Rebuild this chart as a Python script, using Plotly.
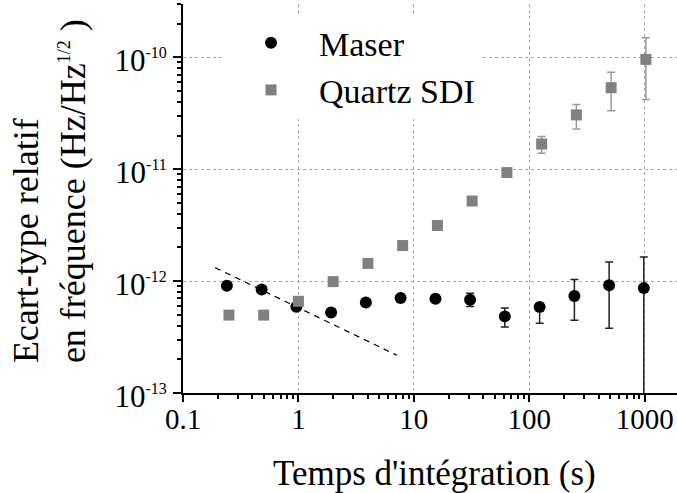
import plotly.graph_objects as go

# Data
maser_x = [0.24, 0.48, 0.96, 1.92, 3.84, 7.68, 15.4, 30.7, 61.4, 123, 246, 492, 983]
maser_y = [9.1e-13, 8.4e-13, 5.9e-13, 5.25e-13, 6.45e-13, 7.05e-13, 6.95e-13,
           6.8e-13, 4.84e-13, 5.86e-13, 7.35e-13, 9.2e-13, 8.66e-13]
maser_hi = [9.1e-13, 8.4e-13, 5.9e-13, 5.25e-13, 6.45e-13, 7.05e-13, 7.3e-13,
            7.8e-13, 5.74e-13, 6.15e-13, 1.035e-12, 1.48e-12, 1.64e-12]
maser_lo = [9.1e-13, 8.4e-13, 5.9e-13, 5.25e-13, 6.45e-13, 7.05e-13, 6.6e-13,
            5.94e-13, 3.88e-13, 4.21e-13, 4.46e-13, 3.8e-13, 1e-14]

quartz_x = [0.25, 0.5, 1, 2, 4, 8, 16, 32, 64, 128, 256, 512, 1024]
quartz_y = [4.97e-13, 4.97e-13, 6.6e-13, 9.9e-13, 1.44e-12, 2.08e-12, 3.14e-12,
            5.2e-12, 9.34e-12, 1.68e-11, 3.06e-11, 5.36e-11, 9.6e-11]
quartz_hi = [4.97e-13, 4.97e-13, 6.6e-13, 9.9e-13, 1.44e-12, 2.08e-12, 3.14e-12,
             5.2e-12, 9.9e-12, 1.96e-11, 3.8e-11, 7.35e-11, 1.5e-10]
quartz_lo = [4.97e-13, 4.97e-13, 6.6e-13, 9.9e-13, 1.44e-12, 2.08e-12, 3.14e-12,
             5.2e-12, 8.8e-12, 1.39e-11, 2.29e-11, 3.34e-11, 4.2e-11]

slope_x = [0.19, 7.1]
slope_y = [1.32e-12, 2.18e-13]

x_tickvals = [0.1, 1, 10, 100, 1000]
x_ticktext = ["0.1", "1", "10", "100", "1000"]
y_tickvals = [1e-13, 1e-12, 1e-11, 1e-10]
y_exps = ["-13", "-12", "-11", "-10"]

FONT = "Liberation Serif"

fig = go.Figure()

fig.add_trace(go.Scatter(
    x=slope_x, y=slope_y, mode="lines", showlegend=False,
    line=dict(color="black", width=1.2, dash="6px,5px"),
))

fig.add_trace(go.Scatter(
    x=maser_x, y=maser_y, mode="markers", name="Maser",
    marker=dict(symbol="circle", size=12, color="black"),
    error_y=dict(type="data", symmetric=False,
                 array=[h - v for h, v in zip(maser_hi, maser_y)],
                 arrayminus=[v - l for v, l in zip(maser_y, maser_lo)],
                 color="#222222", thickness=1.5, width=4),
))

fig.add_trace(go.Scatter(
    x=quartz_x, y=quartz_y, mode="markers", name="Quartz SDI",
    marker=dict(symbol="square", size=11, color="#808080"),
    error_y=dict(type="data", symmetric=False,
                 array=[h - v for h, v in zip(quartz_hi, quartz_y)],
                 arrayminus=[v - l for v, l in zip(quartz_y, quartz_lo)],
                 color="#9a9a9a", thickness=1.5, width=4),
))

fig.update_xaxes(
    type="log", range=[-1, 3.28],
    tickvals=x_tickvals, ticktext=x_ticktext,
    ticks="outside", ticklen=7, tickwidth=2, tickcolor="black",
    ticklabelstandoff=-8,
    showline=True, linecolor="black", linewidth=2,
    showgrid=True, gridcolor="#aaaaaa", griddash="dot", gridwidth=1,
    zeroline=False,
    tickfont=dict(family=FONT, size=29, color="black"),
    minor=dict(ticks="outside", ticklen=4, tickwidth=1.5, tickcolor="black",
               dtick="D1", showgrid=False),
)
fig.update_yaxes(
    type="log", range=[-13, -9.5229],
    tickvals=y_tickvals,
    ticktext=["10<sup><span style='font-size:16px'>%s</span></sup>" % e for e in y_exps],
    ticks="outside", ticklen=8, tickwidth=2, tickcolor="black",
    ticklabelshift=3,
    showline=True, linecolor="black", linewidth=2,
    showgrid=True, gridcolor="#aaaaaa", griddash="dot", gridwidth=1,
    zeroline=False,
    tickfont=dict(family=FONT, size=31, color="black"),
    minor=dict(ticks="outside", ticklen=4, tickwidth=1.5, tickcolor="black",
               dtick="D1", showgrid=False),
)

fig.add_annotation(
    text="Temps d'intégration (s)", xref="paper", yref="paper",
    x=0.51, y=-0.208, xanchor="center", yanchor="middle", showarrow=False,
    font=dict(family=FONT, size=35, color="black"),
)
fig.add_annotation(
    text="Ecart-type relatif<br>en fréquence (Hz/Hz<sup><span style='font-size:18px'>1/2</span></sup> )",
    xref="paper", yref="paper", x=-0.27, y=0.518, textangle=-90,
    xanchor="center", yanchor="middle", align="left", showarrow=False,
    font=dict(family=FONT, size=36, color="black"),
)

fig.update_layout(
    width=677, height=493,
    margin=dict(l=183, r=0, t=4, b=100),
    paper_bgcolor="white", plot_bgcolor="white",
    font=dict(family=FONT, color="black"),
    showlegend=True,
    legend=dict(x=0.081, y=0.974, xanchor="left", yanchor="top",
                bgcolor="white", borderwidth=0, itemwidth=86,
                font=dict(family=FONT, size=34, color="black")),
)

fig.write_html("out.html",
               config={"displayModeBar": False},
               post_script="document.body.style.margin='0px';document.body.style.overflow='hidden';")
